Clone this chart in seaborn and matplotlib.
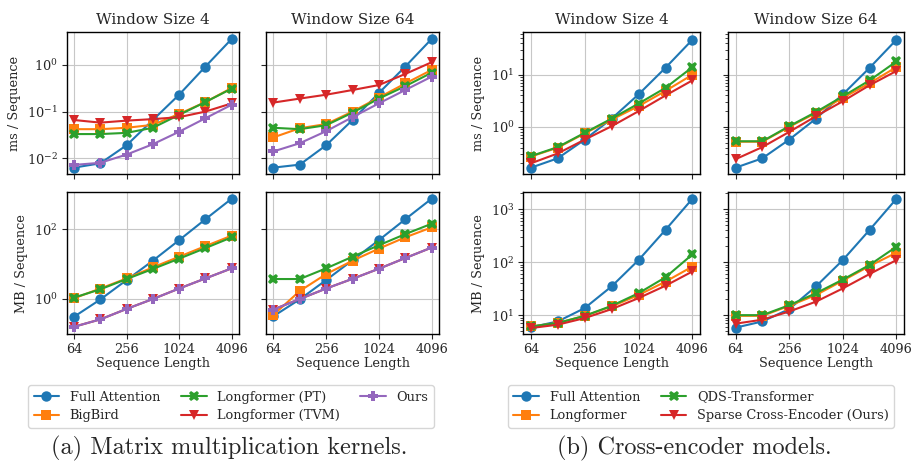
import matplotlib
matplotlib.use("Agg")
import matplotlib.pyplot as plt
import seaborn as sns
import pandas as pd
from matplotlib.ticker import NullLocator, LogLocator, FixedLocator

sns.set_style("ticks", {"axes.grid": True, "grid.color": ".78"})
plt.rcParams['font.family'] = ['DejaVu Serif']
plt.rcParams['mathtext.fontset'] = 'dejavuserif'

seq_len = [64, 128, 256, 512, 1024, 2048, 4096]

# (a) matrix multiplication kernels
kern_names = ["Full Attention", "BigBird", "Longformer (PT)", "Longformer (TVM)", "Ours"]
kern_ms_w4 = {
    "Full Attention": [0.0063, 0.0078, 0.019, 0.066, 0.23, 0.92, 3.6],
    "BigBird": [0.042, 0.042, 0.045, 0.052, 0.089, 0.16, 0.32],
    "Longformer (PT)": [0.033, 0.033, 0.035, 0.045, 0.085, 0.16, 0.31],
    "Longformer (TVM)": [0.066, 0.058, 0.064, 0.069, 0.076, 0.10, 0.15],
    "Ours": [0.0072, 0.008, 0.012, 0.020, 0.037, 0.072, 0.14],
}
kern_ms_w64 = {
    "Full Attention": [0.0063, 0.0073, 0.019, 0.066, 0.25, 0.92, 3.6],
    "BigBird": [0.028, 0.044, 0.054, 0.10, 0.20, 0.40, 0.78],
    "Longformer (PT)": [0.045, 0.042, 0.051, 0.095, 0.19, 0.35, 0.68],
    "Longformer (TVM)": [0.156, 0.19, 0.23, 0.29, 0.37, 0.64, 1.14],
    "Ours": [0.014, 0.021, 0.038, 0.076, 0.15, 0.29, 0.56],
}
kern_mb_w4 = {
    "Full Attention": [0.31, 0.97, 3.5, 12.6, 49, 195, 760],
    "BigBird": [1.05, 2.0, 3.9, 8.1, 16.4, 33, 66],
    "Longformer (PT)": [1.1, 1.9, 3.75, 7.3, 14.4, 29, 59],
    "Longformer (TVM)": [0.16, 0.26, 0.52, 1.0, 2.0, 3.9, 7.6],
    "Ours": [0.16, 0.26, 0.52, 1.0, 2.0, 3.9, 7.6],
}
kern_mb_w64 = {
    "Full Attention": [0.32, 0.98, 3.5, 13, 49, 195, 760],
    "BigBird": [0.35, 1.7, 5.2, 12.6, 28, 59, 114],
    "Longformer (PT)": [3.75, 3.75, 7.6, 16.4, 35, 73, 145],
    "Longformer (TVM)": [0.5, 1.0, 2.0, 3.8, 7.4, 15, 30],
    "Ours": [0.5, 1.0, 2.0, 3.8, 7.4, 15, 30],
}

# (b) cross-encoder models
model_names = ["Full Attention", "Longformer", "QDS-Transformer", "Sparse Cross-Encoder (Ours)"]
model_ms_w4 = {
    "Full Attention": [0.165, 0.25, 0.57, 1.44, 4.2, 13.6, 47],
    "Longformer": [0.27, 0.40, 0.75, 1.38, 2.5, 4.9, 10],
    "QDS-Transformer": [0.275, 0.41, 0.77, 1.44, 2.8, 5.6, 14],
    "Sparse Cross-Encoder (Ours)": [0.20, 0.31, 0.57, 1.03, 2.0, 4.0, 7.8],
}
model_ms_w64 = {
    "Full Attention": [0.165, 0.25, 0.57, 1.44, 4.2, 13.6, 47],
    "Longformer": [0.52, 0.52, 1.0, 1.85, 3.6, 6.9, 14],
    "QDS-Transformer": [0.53, 0.53, 1.03, 1.93, 3.85, 7.8, 18],
    "Sparse Cross-Encoder (Ours)": [0.24, 0.41, 0.8, 1.6, 3.1, 6.3, 11.8],
}
model_mb_w4 = {
    "Full Attention": [5.9, 7.6, 13.6, 35, 110, 410, 1590],
    "Longformer": [6.1, 7.1, 9.7, 14.6, 24, 43, 83],
    "QDS-Transformer": [6.1, 7.1, 9.7, 15, 26, 52, 141],
    "Sparse Cross-Encoder (Ours)": [5.7, 6.6, 8.8, 13, 21, 36, 67],
}
model_mb_w64 = {
    "Full Attention": [5.8, 7.6, 13, 35, 110, 410, 1590],
    "Longformer": [9.7, 9.7, 15, 24, 45, 85, 152],
    "QDS-Transformer": [10, 10, 15.4, 26, 47, 89, 197],
    "Sparse Cross-Encoder (Ours)": [6.9, 8.2, 11.7, 18, 32, 60, 110],
}

pal = sns.color_palette("tab10")
kern_style = {
    "Full Attention": (pal[0], "o"),
    "BigBird": (pal[1], "s"),
    "Longformer (PT)": (pal[2], "X"),
    "Longformer (TVM)": (pal[3], "v"),
    "Ours": (pal[4], "P"),
}
model_style = {
    "Full Attention": (pal[0], "o"),
    "Longformer": (pal[1], "s"),
    "QDS-Transformer": (pal[2], "X"),
    "Sparse Cross-Encoder (Ours)": (pal[3], "v"),
}

W, H = 913, 468
fig = plt.figure(figsize=(W / 100, H / 100), dpi=100)


def px_axes(x0, x1, y0, y1):
    return fig.add_axes([x0 / W, 1 - y1 / H, (x1 - x0) / W, (y1 - y0) / H])


def draw(ax, data, names, styles):
    for name in names:
        color, marker = styles[name]
        df = pd.DataFrame({"x": seq_len, "y": data[name]})
        sns.lineplot(data=df, x="x", y="y", ax=ax, color=color, marker=marker,
                     markersize=7.5, markeredgewidth=0, linewidth=1.5, label=name,
                     legend=False)
    ax.set_xscale("log", base=2)
    ax.set_yscale("log")
    ax.set_xticks([64, 256, 1024, 4096])
    ax.xaxis.set_minor_locator(NullLocator())
    ax.set_xlim(2 ** 5.72, 2 ** 12.28)
    ax.set_xlabel("")
    ax.set_ylabel("")
    ax.tick_params(labelsize=9.3, pad=3)
    for s in ax.spines.values():
        s.set_color("black")
        s.set_linewidth(1.0)


rows = [(32.3, 174), (192.3, 334)]
cols_a = [(66.7, 239), (266, 439)]
cols_b = [(523.3, 700), (728, 904)]

groups = [
    (cols_a, [[kern_ms_w4, kern_ms_w64], [kern_mb_w4, kern_mb_w64]], kern_names, kern_style,
     [(0.0046, 5.0), (0.099, 1160)], [[0.01, 0.1, 1], [1, 100]], False, 231),
    (cols_b, [[model_ms_w4, model_ms_w64], [model_mb_w4, model_mb_w64]], model_names, model_style,
     [(0.125, 65), (4.4, 2100)], [[1, 10], [10, 100, 1000]], True, 701),
]

for cols, datasets, names, styles, lims, yticks, minor, leg_x in groups:
    for r, (y0, y1) in enumerate(rows):
        for c, (x0, x1) in enumerate(cols):
            ax = px_axes(x0, x1, y0, y1)
            draw(ax, datasets[r][c], names, styles)
            ax.set_ylim(*lims[r])
            ax.yaxis.set_major_locator(FixedLocator(yticks[r]))
            if minor:
                ax.yaxis.set_minor_locator(LogLocator(base=10, subs=range(2, 10), numticks=20))
            else:
                ax.yaxis.set_minor_locator(NullLocator())
            if r == 0:
                ax.set_title(["Window Size 4", "Window Size 64"][c], fontsize=11, pad=6)
                ax.set_xticklabels([])
            else:
                ax.set_xticklabels(["64", "256", "1024", "4096"])
                ax.set_xlabel("Sequence Length", fontsize=9.3, labelpad=1)
            if c == 0:
                ax.set_ylabel(["ms / Sequence", "MB / Sequence"][r], fontsize=9.3)
            else:
                ax.set_yticklabels([])
            if r == 1 and c == 1:
                handles, labels = ax.get_legend_handles_labels()
                fig.legend(handles, labels, loc="upper center",
                           bbox_to_anchor=(leg_x / W, 1 - 379 / H),
                           ncol=3 if len(names) == 5 else 2, fontsize=9.3,
                           handlelength=2, columnspacing=1.6, borderpad=0.4,
                           labelspacing=0.45)

fig.text(229 / W, 1 - 448 / H, "(a) Matrix multiplication kernels.", ha="center",
         va="center", family="cmr10", fontsize=17.5)
fig.text(694 / W, 1 - 448 / H, "(b) Cross-encoder models.", ha="center",
         va="center", family="cmr10", fontsize=17.5)

fig.savefig("out.png", dpi=100)
